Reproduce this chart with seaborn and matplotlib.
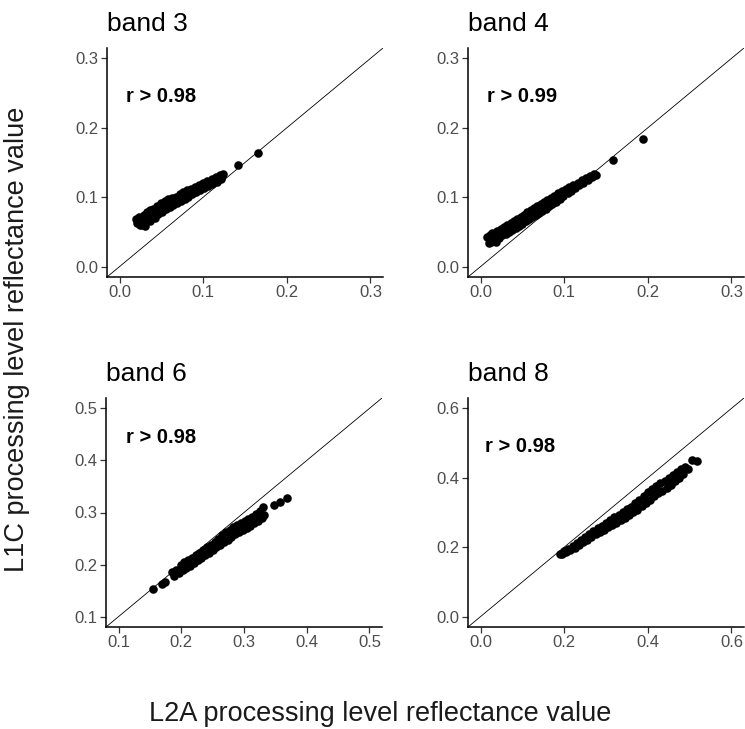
import matplotlib
matplotlib.use('Agg')

import seaborn as sns
import matplotlib.pyplot as plt
import pandas as pd

# band 3
b3_x = [0.020, 0.021, 0.023, 0.024, 0.026, 0.027, 0.029, 0.030, 0.031, 0.033,
        0.034, 0.036, 0.037, 0.039, 0.040, 0.042, 0.043, 0.045, 0.046, 0.048,
        0.049, 0.051, 0.052, 0.054, 0.055, 0.057, 0.058, 0.060, 0.061, 0.063,
        0.064, 0.066, 0.067, 0.069, 0.070, 0.072, 0.073, 0.075, 0.076, 0.078,
        0.079, 0.081, 0.082, 0.084, 0.085, 0.087, 0.088, 0.090, 0.091, 0.093,
        0.095, 0.096, 0.098, 0.100, 0.101, 0.103, 0.105, 0.106, 0.108, 0.110,
        0.111, 0.113, 0.115, 0.116, 0.118, 0.120, 0.121, 0.123, 0.124,
        0.142, 0.165]
b3_y = [0.068, 0.063, 0.072, 0.060, 0.067, 0.060, 0.074, 0.063, 0.059, 0.078,
        0.069, 0.081, 0.066, 0.075, 0.083, 0.070, 0.080, 0.088, 0.076, 0.083,
        0.091, 0.079, 0.087, 0.094, 0.083, 0.090, 0.097, 0.086, 0.093, 0.099,
        0.089, 0.096, 0.101, 0.092, 0.099, 0.105, 0.095, 0.101, 0.107, 0.098,
        0.104, 0.110, 0.101, 0.107, 0.112, 0.104, 0.110, 0.115, 0.107, 0.113,
        0.117, 0.110, 0.116, 0.120, 0.113, 0.119, 0.123, 0.116, 0.122, 0.126,
        0.119, 0.125, 0.129, 0.122, 0.128, 0.132, 0.126, 0.131, 0.134,
        0.147, 0.163]

# band 4
b4_x = [0.008, 0.010, 0.011, 0.013, 0.014, 0.016, 0.017, 0.019, 0.020, 0.022,
        0.024, 0.026, 0.028, 0.030, 0.032, 0.034, 0.036, 0.038, 0.040, 0.042,
        0.044, 0.046, 0.048, 0.050, 0.052, 0.054, 0.056, 0.058, 0.060, 0.062,
        0.064, 0.066, 0.068, 0.070, 0.072, 0.074, 0.076, 0.078, 0.080, 0.082,
        0.084, 0.086, 0.088, 0.090, 0.093, 0.095, 0.097, 0.099, 0.102, 0.104,
        0.106, 0.108, 0.111, 0.113, 0.116, 0.118, 0.121, 0.123, 0.126, 0.128,
        0.131, 0.133, 0.136, 0.138, 0.158, 0.194]
b4_y = [0.042, 0.034, 0.046, 0.036, 0.049, 0.038, 0.044, 0.035, 0.051, 0.041,
        0.054, 0.045, 0.057, 0.047, 0.060, 0.050, 0.063, 0.053, 0.066, 0.056,
        0.069, 0.059, 0.072, 0.062, 0.075, 0.065, 0.078, 0.068, 0.081, 0.071,
        0.084, 0.074, 0.087, 0.077, 0.090, 0.080, 0.093, 0.083, 0.096, 0.087,
        0.099, 0.090, 0.102, 0.093, 0.106, 0.097, 0.109, 0.102, 0.112, 0.106,
        0.115, 0.109, 0.118, 0.113, 0.121, 0.117, 0.125, 0.121, 0.128, 0.125,
        0.131, 0.129, 0.134, 0.132, 0.153, 0.184]

# band 6
b6_x = [0.155, 0.170, 0.174, 0.186, 0.189, 0.192, 0.196, 0.199, 0.202, 0.205,
        0.208, 0.211, 0.214, 0.217, 0.220, 0.223, 0.226, 0.229, 0.232, 0.235,
        0.238, 0.241, 0.244, 0.247, 0.250, 0.253, 0.256, 0.259, 0.262, 0.265,
        0.268, 0.271, 0.274, 0.277, 0.280, 0.283, 0.286, 0.289, 0.292, 0.295,
        0.298, 0.301, 0.304, 0.307, 0.310, 0.313, 0.316, 0.319, 0.322, 0.325,
        0.328, 0.330, 0.332, 0.348, 0.358, 0.368]
b6_y = [0.153, 0.162, 0.167, 0.186, 0.178, 0.190, 0.183, 0.199, 0.190, 0.204,
        0.194, 0.208, 0.198, 0.213, 0.203, 0.218, 0.208, 0.223, 0.213, 0.228,
        0.218, 0.233, 0.223, 0.238, 0.228, 0.244, 0.233, 0.250, 0.238, 0.256,
        0.243, 0.262, 0.248, 0.267, 0.253, 0.272, 0.258, 0.276, 0.262, 0.280,
        0.266, 0.284, 0.270, 0.288, 0.275, 0.292, 0.280, 0.297, 0.284, 0.302,
        0.289, 0.310, 0.296, 0.315, 0.320, 0.328]

# band 8
b8_x = [0.190, 0.195, 0.200, 0.205, 0.210, 0.215, 0.220, 0.225, 0.230, 0.235,
        0.240, 0.245, 0.250, 0.255, 0.260, 0.265, 0.270, 0.275, 0.280, 0.285,
        0.290, 0.295, 0.300, 0.305, 0.310, 0.315, 0.320, 0.325, 0.330, 0.335,
        0.340, 0.345, 0.350, 0.355, 0.360, 0.365, 0.370, 0.375, 0.380, 0.385,
        0.390, 0.395, 0.400, 0.405, 0.410, 0.415, 0.420, 0.425, 0.430, 0.435,
        0.440, 0.445, 0.450, 0.455, 0.460, 0.465, 0.470, 0.475, 0.480, 0.485,
        0.490, 0.495, 0.505, 0.518]
b8_y = [0.181, 0.180, 0.189, 0.186, 0.196, 0.193, 0.204, 0.199, 0.212, 0.207,
        0.221, 0.214, 0.229, 0.222, 0.239, 0.230, 0.247, 0.238, 0.255, 0.244,
        0.262, 0.251, 0.270, 0.257, 0.278, 0.265, 0.286, 0.271, 0.293, 0.278,
        0.301, 0.284, 0.309, 0.292, 0.317, 0.300, 0.327, 0.308, 0.337, 0.318,
        0.348, 0.327, 0.358, 0.337, 0.368, 0.347, 0.376, 0.355, 0.384, 0.363,
        0.392, 0.371, 0.400, 0.380, 0.407, 0.390, 0.416, 0.400, 0.424, 0.412,
        0.430, 0.425, 0.450, 0.448]

titles = ['band 3', 'band 4', 'band 6', 'band 8']
r_labels = ['r > 0.98', 'r > 0.99', 'r > 0.98', 'r > 0.98']
limits = [(0.0, 0.3), (0.0, 0.3), (0.1, 0.5), (0.0, 0.6)]
ticks = [[0.0, 0.1, 0.2, 0.3], [0.0, 0.1, 0.2, 0.3],
         [0.1, 0.2, 0.3, 0.4, 0.5], [0.0, 0.2, 0.4, 0.6]]
label_pos = [(0.05, 0.245), (0.05, 0.245), (0.167, 0.445), (0.094, 0.49)]

series = [(b3_x, b3_y), (b4_x, b4_y), (b6_x, b6_y), (b8_x, b8_y)]

if __name__ == "__main__":
    sns.set_theme(style='ticks')
    plt.rcParams['font.family'] = ['Liberation Sans', 'DejaVu Sans']

    fig = plt.figure(figsize=(7.45, 7.29), dpi=100)

    # panel rectangles in pixels (left, top)
    W, H = 745.0, 729.0
    pw, ph = 276.0, 229.0
    corners = [(107, 48), (468, 48), (106, 398), (468, 398)]

    for i, (cx, cy) in enumerate(corners):
        ax = fig.add_axes([cx / W, 1 - (cy + ph) / H, pw / W, ph / H])
        xs, ys = series[i]
        df = pd.DataFrame({'l2a': xs, 'l1c': ys})
        sns.scatterplot(data=df, x='l2a', y='l1c', ax=ax, color='black',
                        s=38, linewidth=0, zorder=3)
        ax.axline((0, 0), slope=1, color='black', lw=0.6, zorder=2)

        lo, hi = limits[i]
        pad = (hi - lo) * 0.05
        ax.set_xlim(lo - pad, hi + pad)
        ax.set_ylim(lo - pad, hi + pad)
        ax.set_xticks(ticks[i])
        ax.set_yticks(ticks[i])
        ax.set_xticklabels(['%.1f' % t for t in ticks[i]])
        ax.set_yticklabels(['%.1f' % t for t in ticks[i]])
        ax.tick_params(labelsize=12, labelcolor='#4D4D4D', color='#333333',
                       length=4, width=0.9, pad=2)
        for side in ['top', 'right']:
            ax.spines[side].set_visible(False)
        for side in ['left', 'bottom']:
            ax.spines[side].set_color('black')
            ax.spines[side].set_linewidth(1.1)
        ax.set_xlabel('')
        ax.set_ylabel('')
        ax.set_title(titles[i], loc='left', fontsize=19, pad=12, color='black')
        ax.text(label_pos[i][0], label_pos[i][1], r_labels[i], ha='center',
                va='center', fontsize=14.5, fontweight='bold', color='black')

    fig.text(0.51, 2.0 / 729, 'L2A processing level reflectance value',
             ha='center', va='bottom', fontsize=19.5, color='#1a1a1a')
    fig.text(0.023, 0.535, 'L1C processing level reflectance value',
             ha='center', va='center', rotation=90, fontsize=19.5,
             color='#1a1a1a')

    plt.savefig('out.png', dpi=100)
